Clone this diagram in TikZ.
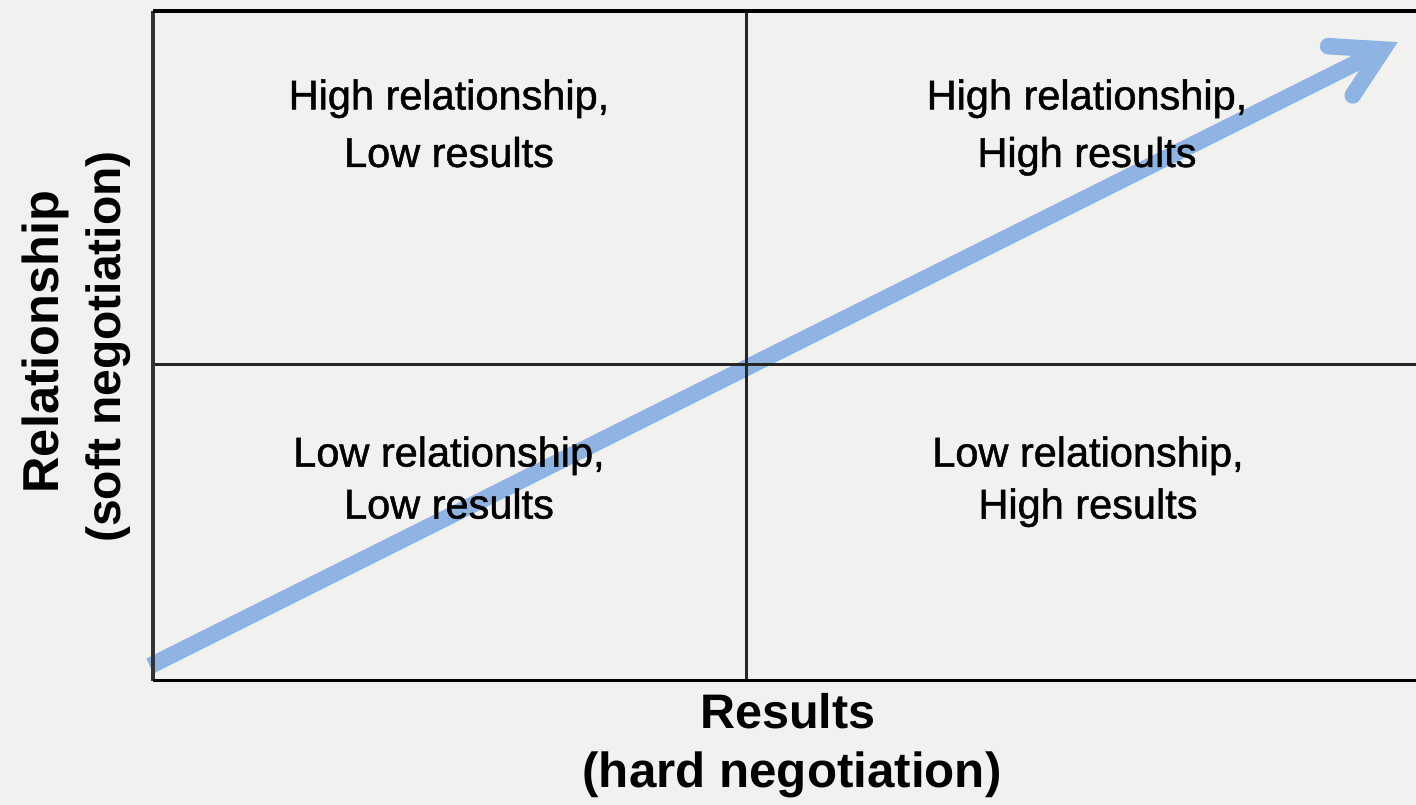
\documentclass[tikz,border=0pt]{standalone}
\usepackage{fontspec}
\setmainfont{Liberation Sans}
\newfontfamily\quadfont[FakeBold=1.2]{Liberation Sans}
\definecolor{bgc}{HTML}{F1F1EF}
\definecolor{arrowblue}{HTML}{8DB4E2}
\begin{document}
\begin{tikzpicture}[x=1pt,y=-1pt,
  quad/.style={font=\quadfont\fontsize{41.5}{48}\selectfont, anchor=base, inner sep=0pt},
  axislabel/.style={font=\fontsize{#1}{58}\selectfont\bfseries, anchor=base, inner sep=0pt},
  axislabel/.default=48,
  frame/.style={line width=3.5pt, black},
  sideline/.style={line width=3.5pt, black!80},
  divider/.style={line width=3pt, black!85},
  trend/.style={line width=16.5pt, arrowblue}]
\fill[bgc] (0,0) rectangle (1416,805);
\useasboundingbox (0,0) rectangle (1416,805);

% grid corners
\coordinate (tl) at (153,11);
\coordinate (bl) at (153,680.5);
\coordinate (tr) at (1416,11);
\coordinate (br) at (1416,680.5);
\coordinate (mt) at (746.5,11);
\coordinate (mb) at (746.5,680.5);
\coordinate (ml) at (153,364.7);
\coordinate (mr) at (1416,364.7);

% trend arrow
\coordinate (s) at (150,666);
\coordinate (t) at (1383,49.5);
\coordinate (b1) at (1328.1,46.2);
\coordinate (b2) at (1352.7,95.4);
\draw[trend] (s) -- (t);
\draw[trend, line cap=round, line join=miter] (b1) -- (t) -- (b2);

% grid lines
\draw[divider] (mt) -- (mb);
\draw[divider] (ml) -- (mr);
\draw[sideline] (tl) -- (bl);
\draw[frame] (tr) -- (tl);
\draw[frame] (bl) -- (br);

% quadrant texts
\node[quad] (q1a) at (449,109.5) {High relationship,};
\node[quad] (q1b) at (449,167) {Low results};
\node[quad] (q2a) at (1087,109.5) {High relationship,};
\node[quad] (q2b) at (1087,167) {High results};
\node[quad] (q3a) at (449,466.5) {Low relationship,};
\node[quad] (q3b) at (449,518.5) {Low results};
\node[quad] (q4a) at (1088,466.5) {Low relationship,};
\node[quad] (q4b) at (1088,518.5) {High results};

% axis labels
\node[axislabel=48.5] (xl1) at (788,728) {Results};
\node[axislabel=49.3] (xl2) at (792,787) {(hard negotiation)};
\node[axislabel=50.5, rotate=90] (yl1) at (58,342) {Relationship};
\node[axislabel=48, rotate=90] (yl2) at (120,347) {(soft negotiation)};
\end{tikzpicture}
\end{document}
